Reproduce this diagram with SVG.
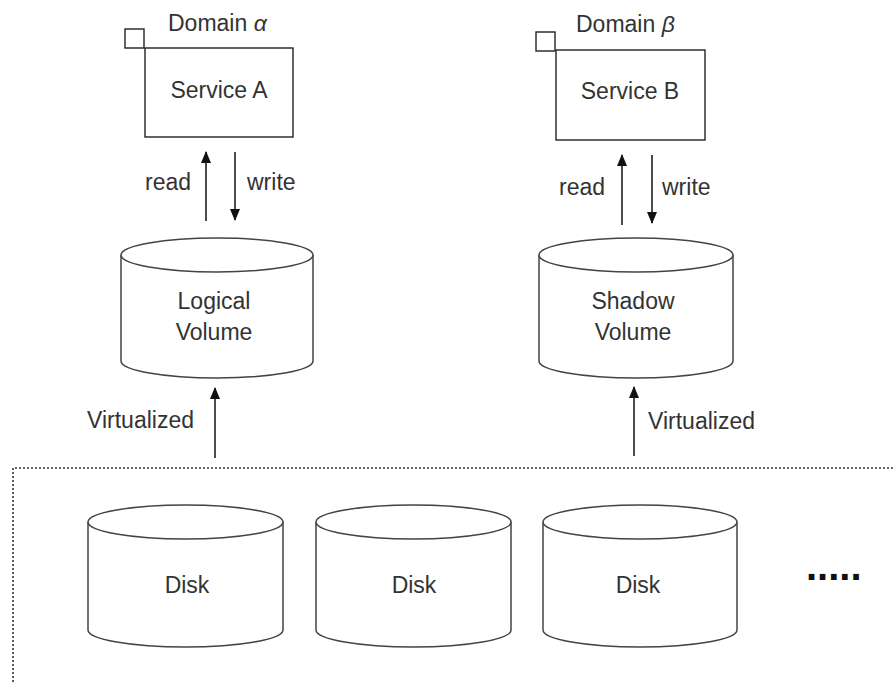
<svg xmlns="http://www.w3.org/2000/svg" width="893" height="682" viewBox="0 0 893 682">
<defs>
<marker id="ah" markerUnits="userSpaceOnUse" markerWidth="12" markerHeight="10" refX="11" refY="5" orient="auto">
<path d="M0,0 L12,5 L0,10 z" fill="#111"/>
</marker>
<style>
text{font-family:"Liberation Sans",Arial,Helvetica,sans-serif;font-size:23px;fill:#333}
.c{text-anchor:middle}
.box{fill:#fff;stroke:#222;stroke-width:1.4}
.cyl{fill:#fff;stroke:#444;stroke-width:1.5}
.conn{stroke:#111;stroke-width:1.5;fill:none;marker-end:url(#ah)}
.dot{fill:none;stroke:#333;stroke-width:1.6;stroke-dasharray:2 2}
</style>
</defs>
<rect width="893" height="682" fill="#fff"/>
<path class="dot" d="M13,682 V468 H893"/>
<g id="serviceA">
<rect class="box" x="125" y="29" width="19" height="19"/>
<rect class="box" x="145" y="48" width="148" height="89"/>
<text x="168" y="31">Domain <tspan font-style="italic">α</tspan></text>
<text class="c" x="219" y="98">Service A</text>
</g>
<g id="serviceB">
<rect class="box" x="536" y="32" width="19" height="19"/>
<rect class="box" x="556" y="50" width="149" height="90"/>
<text x="576" y="32">Domain <tspan font-style="italic">β</tspan></text>
<text class="c" x="630" y="99">Service B</text>
</g>
<g id="logicalVolume">
<path class="cyl" d="M121,255 V361 A96,17 0 0,0 313,361 V255"/>
<ellipse class="cyl" cx="217" cy="255" rx="96" ry="17"/>
<text class="c" x="214" y="309">Logical</text>
<text class="c" x="214" y="340">Volume</text>
</g>
<g id="shadowVolume">
<path class="cyl" d="M539,255 V361 A97,17 0 0,0 733,361 V255"/>
<ellipse class="cyl" cx="636" cy="255" rx="97" ry="17"/>
<text class="c" x="633" y="309">Shadow</text>
<text class="c" x="633" y="340">Volume</text>
</g>
<g id="disk1">
<path class="cyl" d="M88,522 V630 A97.5,17 0 0,0 283,630 V522"/>
<ellipse class="cyl" cx="185.5" cy="522" rx="97.5" ry="17"/>
<text class="c" x="187" y="593">Disk</text>
</g>
<g id="disk2">
<path class="cyl" d="M316,522 V630 A97.5,17 0 0,0 511,630 V522"/>
<ellipse class="cyl" cx="413.5" cy="522" rx="97.5" ry="17"/>
<text class="c" x="414" y="593">Disk</text>
</g>
<g id="disk3">
<path class="cyl" d="M543,522 V630 A97,17 0 0,0 737,630 V522"/>
<ellipse class="cyl" cx="640" cy="522" rx="97" ry="17"/>
<text class="c" x="638" y="593">Disk</text>
</g>
<g id="more">
<text x="806" y="580" style="font-size:40px;font-weight:bold;fill:#111">.....</text>
</g>
<g id="connectors">
<line class="conn" x1="206" y1="221" x2="206" y2="152"/>
<line class="conn" x1="235" y1="152" x2="235" y2="220"/>
<line class="conn" x1="215" y1="458" x2="215" y2="388"/>
<line class="conn" x1="622" y1="225" x2="622" y2="155"/>
<line class="conn" x1="652" y1="155" x2="652" y2="223"/>
<line class="conn" x1="634" y1="456" x2="634" y2="387"/>
<text x="145" y="190">read</text>
<text x="247" y="190">write</text>
<text x="559" y="195">read</text>
<text x="662" y="195">write</text>
<text x="87" y="428">Virtualized</text>
<text x="648" y="429">Virtualized</text>
</g>
</svg>
